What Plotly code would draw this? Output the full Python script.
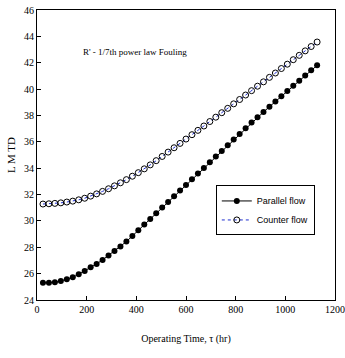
import plotly.graph_objects as go

# operating time (hr)
time_hr = [24, 48, 72, 96, 120, 144, 168, 192, 216, 240, 264, 288, 312, 336, 360,
           384, 408, 432, 456, 480, 504, 528, 552, 576, 600, 624, 648, 672, 696, 720,
           744, 768, 792, 816, 840, 864, 888, 912, 936, 960, 984, 1008, 1032, 1056,
           1080, 1104, 1128]

parallel_flow = [25.30, 25.30, 25.35, 25.44, 25.57, 25.72, 25.95, 26.20, 26.48, 26.74,
                 27.04, 27.38, 27.72, 28.06, 28.43, 28.86, 29.29, 29.72, 30.15, 30.58,
                 31.01, 31.44, 31.87, 32.30, 32.73, 33.16, 33.59, 34.02, 34.45, 34.88,
                 35.31, 35.74, 36.17, 36.60, 37.03, 37.46, 37.86, 38.26, 38.66, 39.06,
                 39.46, 39.86, 40.25, 40.64, 41.03, 41.42, 41.80]

counter_flow = [31.28, 31.30, 31.33, 31.37, 31.43, 31.50, 31.60, 31.72, 31.88, 32.05,
                32.24, 32.44, 32.66, 32.89, 33.13, 33.39, 33.66, 33.95, 34.25, 34.57,
                34.89, 35.22, 35.55, 35.88, 36.21, 36.54, 36.87, 37.20, 37.54, 37.87,
                38.21, 38.54, 38.88, 39.21, 39.55, 39.88, 40.22, 40.55, 40.89, 41.22,
                41.56, 41.89, 42.23, 42.56, 42.90, 43.23, 43.57]

x_ticks = [0, 200, 400, 600, 800, 1000, 1200]
y_ticks = [24, 26, 28, 30, 32, 34, 36, 38, 40, 42, 44, 46]

serif = "Liberation Serif"

fig = go.Figure()
fig.add_trace(go.Scatter(
    x=time_hr, y=parallel_flow,
    mode='lines+markers',
    name='Parallel flow',
    line=dict(color='black', width=1),
    marker=dict(symbol='circle', size=6, color='black')
))
fig.add_trace(go.Scatter(
    x=time_hr, y=counter_flow,
    mode='lines+markers',
    name='Counter flow',
    line=dict(color='#1f2fd0', width=1, dash='dot'),
    marker=dict(symbol='circle-open', size=6, color='black', line=dict(width=1))
))

fig.add_annotation(
    x=0.33, y=0.855, xref='paper', yref='paper',
    xanchor='center', yanchor='middle',
    text="R' - 1/7th power law Fouling",
    showarrow=False,
    font=dict(family=serif, size=9, color='black')
)

axis_style = dict(
    showline=True, linecolor='black', linewidth=1, mirror=True,
    ticks='inside', ticklen=4, tickcolor='black',
    showgrid=False, zeroline=False, automargin=False,
    ticklabeloverflow='allow',
    tickfont=dict(family=serif, size=10, color='black'),
)

fig.update_layout(
    width=345, height=358,
    margin=dict(l=37, r=10, t=10, b=58),
    plot_bgcolor='white', paper_bgcolor='white',
    showlegend=True,
    legend=dict(
        x=0.6, y=0.395, xanchor='left', yanchor='top',
        bgcolor='white', bordercolor='black', borderwidth=1,
        font=dict(family='Liberation Sans', size=9, color='black'),
        tracegroupgap=0, itemwidth=30
    ),
    xaxis=dict(range=[0, 1200], tickvals=x_ticks,
               title=dict(text='Operating Time, τ (hr)', font=dict(family=serif, size=10, color='black'),
                          standoff=20),
               **axis_style),
    yaxis=dict(range=[24, 46], tickvals=y_ticks,
               title=dict(text='L M TD', font=dict(family=serif, size=11, color='black'),
                          standoff=6),
               **axis_style),
)

# drop the default 8px body margin so the figure sits at the window's corner
fig.write_html("out.html", config={'displayModeBar': False},
               post_script="document.body.style.margin = '0';")
